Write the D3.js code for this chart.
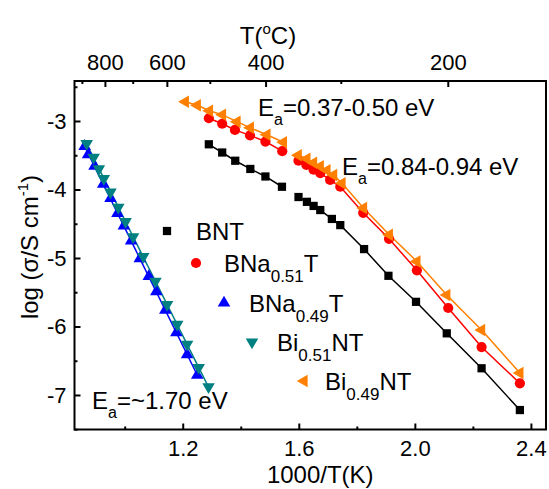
<!DOCTYPE html>
<html>
<head>
<meta charset="utf-8">
<script src="https://cdn.jsdelivr.net/npm/d3@7"></script>
<style>
  body { margin: 0; background: #fff; }
  text { font-family: "Liberation Sans", Arial, Helvetica, sans-serif; fill: #000; }
</style>
</head>
<body>
<svg id="chart" width="549" height="489"></svg>
<script>
// Arrhenius data: x = 1000/T (K^-1), y = log(sigma / S cm^-1)
// Series with two regimes list the high-temperature points first;
// the *Split value is the number of points in that first regime.
const bntX = [1.290, 1.336, 1.381, 1.433, 1.485, 1.542, 1.599, 1.628, 1.651, 1.674, 1.714, 1.743, 1.825, 1.909, 2.004, 2.110, 2.230, 2.362];
const bntY = [-3.34, -3.46, -3.58, -3.70, -3.81, -3.96, -4.11, -4.18, -4.24, -4.30, -4.43, -4.52, -4.87, -5.26, -5.64, -6.10, -6.61, -7.22];
const bntSplit = 6;

const bna51X = [1.290, 1.336, 1.380, 1.432, 1.485, 1.543, 1.599, 1.626, 1.651, 1.674, 1.708, 1.743, 1.822, 1.911, 2.007, 2.115, 2.230, 2.362];
const bna51Y = [-2.96, -3.04, -3.13, -3.21, -3.30, -3.44, -3.58, -3.64, -3.71, -3.76, -3.86, -3.96, -4.34, -4.72, -5.18, -5.73, -6.30, -6.83];
const bna51Split = 6;

const bna49X = [0.862, 0.874, 0.896, 0.926, 0.951, 0.975, 0.997, 1.022, 1.052, 1.083, 1.109, 1.140, 1.178, 1.215, 1.250];
const bna49Y = [-3.37, -3.49, -3.66, -3.92, -4.13, -4.35, -4.53, -4.75, -5.01, -5.27, -5.49, -5.76, -6.09, -6.41, -6.71];

const bi51X = [0.869, 0.893, 0.911, 0.928, 0.951, 0.978, 1.003, 1.029, 1.064, 1.106, 1.146, 1.181, 1.215, 1.255, 1.289];
const bi51Y = [-3.33, -3.53, -3.70, -3.84, -4.04, -4.26, -4.47, -4.69, -4.98, -5.34, -5.68, -5.97, -6.26, -6.60, -6.88];

const bi49X = [1.209, 1.250, 1.292, 1.337, 1.387, 1.433, 1.490, 1.547, 1.598, 1.628, 1.651, 1.674, 1.697, 1.720, 1.749, 1.823, 1.912, 2.007, 2.110, 2.230, 2.362];
const bi49Y = [-2.72, -2.77, -2.85, -2.91, -3.01, -3.10, -3.20, -3.31, -3.50, -3.55, -3.61, -3.66, -3.72, -3.79, -3.91, -4.27, -4.66, -5.05, -5.54, -6.05, -6.68];
const bi49Split = 8;

// Axis ticks
const xMajor = [1.2, 1.6, 2.0, 2.4];
const xMinor = [1.0, 1.4, 1.8, 2.2];
const yMajor = [-3, -4, -5, -6, -7];
const yMinor = [-2.5, -3.5, -4.5, -5.5, -6.5, -7.5];
const tempMajor = [800, 600, 400, 200];   // degC, labelled on the top axis
const tempMinor = [900, 700, 500, 300];

const svg = d3.select("#chart");
const L = 74.5, R = 546, T = 81, B = 429.5;

const x = d3.scaleLinear().domain([0.827, 2.452]).range([L, R]);
const y = d3.scaleLinear().domain([-2.416, -7.504]).range([T, B]);
const toInvK = c => 1000 / (c + 273.15);

const series = [
  { name: "BNT", xs: bntX, ys: bntY, split: bntSplit, color: "#000000", shape: "square" },
  { name: "BNa51", xs: bna51X, ys: bna51Y, split: bna51Split, color: "#ff0000", shape: "circle" },
  { name: "BNa49", xs: bna49X, ys: bna49Y, split: null, color: "#0000ff", shape: "up" },
  { name: "Bi51", xs: bi51X, ys: bi51Y, split: null, color: "#008080", shape: "down" },
  { name: "Bi49", xs: bi49X, ys: bi49Y, split: bi49Split, color: "#ff8000", shape: "left" }
];

function symbolPath(shape) {
  if (shape === "square") return { d: d3.symbol(d3.symbolSquare, 68)(), rot: 0 };
  if (shape === "circle") return { d: d3.symbol(d3.symbolCircle, 82)(), rot: 0 };
  const tri = d3.symbol(d3.symbolTriangle, 68)();
  if (shape === "up") return { d: tri, rot: 0 };
  if (shape === "down") return { d: tri, rot: 180 };
  return { d: tri, rot: -90 };
}

// Least-squares line through a set of points
function fit(xs, ys) {
  const mx = d3.mean(xs), my = d3.mean(ys);
  let sxy = 0, sxx = 0;
  xs.forEach((v, i) => { sxy += (v - mx) * (ys[i] - my); sxx += (v - mx) * (v - mx); });
  const k = sxy / sxx;
  return v => my + k * (v - mx);
}

const plot = svg.append("g");
const line = d3.line().x(d => x(d[0])).y(d => y(d[1]));

series.forEach(s => {
  const pts = s.xs.map((v, i) => [v, s.ys[i]]);
  if (s.split === null) {
    const f = fit(s.xs, s.ys);
    const x0 = d3.min(s.xs), x1 = d3.max(s.xs);
    plot.append("path").attr("d", line([[x0, f(x0)], [x1, f(x1)]]))
      .attr("fill", "none").attr("stroke", s.color).attr("stroke-width", 1.5);
  } else {
    [pts.slice(0, s.split), pts.slice(s.split)].forEach(seg => {
      plot.append("path").attr("d", line(seg))
        .attr("fill", "none").attr("stroke", s.color).attr("stroke-width", 1.5);
    });
  }
});

series.forEach(s => {
  const sym = symbolPath(s.shape);
  plot.selectAll(null).data(s.xs.map((v, i) => [v, s.ys[i]])).enter()
    .append("path")
    .attr("d", sym.d)
    .attr("transform", d => `translate(${x(d[0])},${y(d[1])}) rotate(${sym.rot})`)
    .attr("fill", s.color);
});

// Frame
svg.append("rect").attr("x", L).attr("y", T).attr("width", R - L).attr("height", B - T)
  .attr("fill", "none").attr("stroke", "#000").attr("stroke-width", 2);

// Bottom axis
svg.append("g").attr("transform", `translate(0,${B})`)
  .call(d3.axisBottom(x).tickValues(xMajor).tickSize(-6).tickPadding(11).tickFormat(d3.format(".1f")));
svg.append("g").attr("transform", `translate(0,${B})`)
  .call(d3.axisBottom(x).tickValues(xMinor).tickSize(-3).tickFormat(""));

// Left axis
svg.append("g").attr("transform", `translate(${L},0)`)
  .call(d3.axisLeft(y).tickValues(yMajor).tickSize(-6).tickPadding(8).tickFormat(d => String(d)));
svg.append("g").attr("transform", `translate(${L},0)`)
  .call(d3.axisLeft(y).tickValues(yMinor).tickSize(-3).tickFormat(""));

// Top axis: temperature in degC mapped onto 1000/T
svg.append("g").attr("transform", `translate(0,${T})`)
  .call(d3.axisTop(x).tickValues(tempMajor.map(toInvK)).tickSize(-6).tickPadding(11)
    .tickFormat((d, i) => String(tempMajor[i])));
svg.append("g").attr("transform", `translate(0,${T})`)
  .call(d3.axisTop(x).tickValues(tempMinor.map(toInvK)).tickSize(-3).tickFormat(""));

svg.selectAll(".domain").remove();
svg.selectAll(".tick line").attr("stroke", "#000").attr("stroke-width", 2);
svg.selectAll(".tick text").attr("font-size", 22).attr("font-family", "Liberation Sans, Arial, sans-serif").attr("fill", "#000");

// Axis titles
svg.append("text").attr("x", (L + R) / 2 + 10).attr("y", 483).attr("text-anchor", "middle")
  .attr("font-size", 24).text("1000/T(K)");

const tTitle = svg.append("text").attr("x", 268).attr("y", 44).attr("text-anchor", "middle").attr("font-size", 24);
tTitle.append("tspan").text("T(");
tTitle.append("tspan").attr("font-size", 15).attr("dy", -10).text("o");
tTitle.append("tspan").attr("dy", 10).text("C)");

const yTitle = svg.append("text").attr("transform", "translate(38,247) rotate(-90)")
  .attr("text-anchor", "middle").attr("font-size", 24);
yTitle.append("tspan").text("log (\u03c3/S cm");
yTitle.append("tspan").attr("font-size", 15).attr("dy", -10).text("-1");
yTitle.append("tspan").attr("dy", 10).text(")");

// Activation-energy annotations
function ea(xp, yp, value) {
  const t = svg.append("text").attr("x", xp).attr("y", yp).attr("font-size", 24);
  t.append("tspan").text("E");
  t.append("tspan").attr("font-size", 16).attr("dy", 9).text("a");
  t.append("tspan").attr("dy", -9).text(value);
}
ea(258, 116, "=0.37-0.50 eV");
ea(342, 175, "=0.84-0.94 eV");
ea(92, 409, "=~1.70 eV");

// Legend
const legend = [
  { s: series[0], mx: 167, tx: 196, by: 240, parts: [["BNT", false]] },
  { s: series[1], mx: 196, tx: 224, by: 272, parts: [["BNa", false], ["0.51", true], ["T", false]] },
  { s: series[2], mx: 224, tx: 249, by: 312, parts: [["BNa", false], ["0.49", true], ["T", false]] },
  { s: series[3], mx: 252, tx: 277, by: 351, parts: [["Bi", false], ["0.51", true], ["NT", false]] },
  { s: series[4], mx: 304, tx: 325, by: 390, parts: [["Bi", false], ["0.49", true], ["NT", false]] }
];
legend.forEach(e => {
  const sym = symbolPath(e.s.shape);
  svg.append("path").attr("d", sym.d)
    .attr("transform", `translate(${e.mx},${e.by - 9}) rotate(${sym.rot})`)
    .attr("fill", e.s.color);
  const t = svg.append("text").attr("x", e.tx).attr("y", e.by).attr("font-size", 24);
  let down = false;
  e.parts.forEach(([str, sub]) => {
    const sp = t.append("tspan").text(str);
    if (sub) { sp.attr("font-size", 17).attr("dy", 10); down = true; }
    else if (down) { sp.attr("dy", -10); down = false; }
  });
});
</script>
</body>
</html>
